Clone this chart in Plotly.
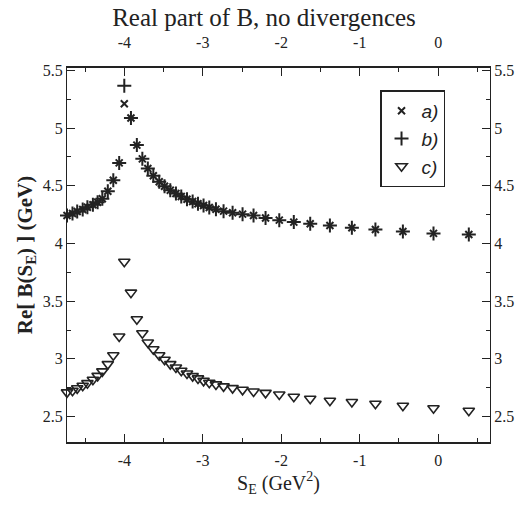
import plotly.graph_objects as go

# shared S_E values (GeV^2)
s_e = [-4.73, -4.66, -4.60, -4.53, -4.47, -4.40, -4.34, -4.28, -4.21, -4.14, -4.065, -4.00,
       -3.915, -3.84, -3.77, -3.70, -3.63, -3.555, -3.487, -3.414, -3.342, -3.274, -3.201,
       -3.129, -3.061, -2.99, -2.917, -2.832, -2.735, -2.62, -2.493, -2.353, -2.20, -2.025,
       -1.84, -1.631, -1.38, -1.10, -0.80, -0.45, -0.06, 0.39]

re_b_a = [4.242, 4.260, 4.277, 4.294, 4.314, 4.335, 4.357, 4.387, 4.452, 4.548, 4.698, 5.210,
          5.087, 4.852, 4.733, 4.649, 4.586, 4.534, 4.496, 4.461, 4.433, 4.407, 4.383,
          4.363, 4.344, 4.329, 4.312, 4.297, 4.280, 4.266, 4.254, 4.242, 4.221, 4.202,
          4.185, 4.171, 4.156, 4.136, 4.121, 4.104, 4.087, 4.078]

re_b_b = [4.242, 4.260, 4.277, 4.294, 4.314, 4.335, 4.357, 4.387, 4.452, 4.548, 4.698, 5.366,
          5.087, 4.852, 4.733, 4.649, 4.586, 4.534, 4.496, 4.461, 4.433, 4.407, 4.383,
          4.363, 4.344, 4.329, 4.312, 4.297, 4.280, 4.266, 4.254, 4.242, 4.221, 4.202,
          4.185, 4.171, 4.156, 4.136, 4.121, 4.104, 4.087, 4.078]

re_b_c = [2.710, 2.724, 2.745, 2.767, 2.790, 2.819, 2.853, 2.892, 2.955, 3.032, 3.194, 3.842,
          3.574, 3.344, 3.222, 3.142, 3.084, 3.032, 2.992, 2.955, 2.926, 2.897, 2.874,
          2.851, 2.831, 2.810, 2.793, 2.779, 2.762, 2.747, 2.732, 2.717, 2.706, 2.691,
          2.672, 2.655, 2.637, 2.626, 2.611, 2.594, 2.572, 2.551]

x_ticks = [-4, -3, -2, -1, 0]
x_tick_text = ["-4", "-3", "-2", "-1", "0"]
y_ticks = [2.5, 3, 3.5, 4, 4.5, 5, 5.5]
y_tick_text = ["2.5", "3", "3.5", "4", "4.5", "5", "5.5"]

INK = "#222222"
SERIF = "Liberation Serif"

fig = go.Figure()
fig.add_trace(go.Scatter(x=s_e, y=re_b_a, mode="markers", name="a)", cliponaxis=False,
                         marker=dict(symbol="x-thin", size=7, line=dict(color=INK, width=2), color=INK)))
fig.add_trace(go.Scatter(x=s_e, y=re_b_b, mode="markers", name="b)", cliponaxis=False,
                         marker=dict(symbol="cross-thin", size=10, line=dict(color=INK, width=2), color=INK)))
fig.add_trace(go.Scatter(x=s_e, y=re_b_c, mode="markers", name="c)", cliponaxis=False,
                         marker=dict(symbol="triangle-down-open", size=10, line=dict(color=INK, width=1.6), color=INK)))
# invisible trace to carry the mirrored (top/right) axes
fig.add_trace(go.Scatter(x=s_e, y=re_b_c, xaxis="x2", yaxis="y2", mode="markers",
                         marker=dict(opacity=0), showlegend=False, hoverinfo="skip"))

xr = [-4.73, 0.66]
yr = [2.28, 5.52]
common_x = dict(range=xr, tickvals=x_ticks, ticktext=x_tick_text, ticks="inside",
                ticklen=8, tickwidth=1.2, tickcolor=INK,
                showline=True, linecolor=INK, linewidth=2, showgrid=False, zeroline=False,
                minor=dict(dtick=0.5, ticks="inside", ticklen=4, tickcolor=INK, tickwidth=1),
                tickfont=dict(family=SERIF, size=16, color=INK))
common_y = dict(range=yr, tickvals=y_ticks, ticktext=y_tick_text, ticks="inside",
                ticklen=8, tickwidth=1.2, tickcolor=INK,
                showline=True, linecolor=INK, linewidth=1.2, showgrid=False, zeroline=False,
                minor=dict(dtick=0.25, ticks="inside", ticklen=4, tickcolor=INK, tickwidth=1),
                tickfont=dict(family=SERIF, size=16, color=INK))

fig.update_layout(
    width=528, height=506,
    margin=dict(l=67, r=38, t=68, b=64),
    paper_bgcolor="white", plot_bgcolor="white",
    font=dict(family=SERIF, color=INK),
    title=dict(text="Real part of B, no divergences", x=0.5, xanchor="center", y=0.965,
               yanchor="middle", font=dict(family=SERIF, size=25, color=INK)),
    xaxis=dict(**common_x, side="bottom", ticklabelstandoff=3,
               title=dict(text="S<sub>E</sub> (GeV<sup>2</sup>)", standoff=0,
                          font=dict(family=SERIF, size=20, color=INK))),
    yaxis=dict(**common_y, side="left",
               title=dict(text="<b>Re[ B(S<sub>E</sub>) ] (GeV)</b>", standoff=4,
                          font=dict(family=SERIF, size=21, color=INK))),
    xaxis2=dict(**common_x, side="top", overlaying="x", matches="x", ticklabelstandoff=12),
    yaxis2=dict(**common_y, side="right", overlaying="y", matches="y"),
    legend=dict(x=0.74, y=0.94, xanchor="left", yanchor="top",
                bordercolor=INK, borderwidth=1.5, bgcolor="white",
                font=dict(family="Liberation Sans", size=19, color=INK, style="italic"),
                itemwidth=30, tracegroupgap=0),
    showlegend=True,
)

fig.write_html("out.html")
